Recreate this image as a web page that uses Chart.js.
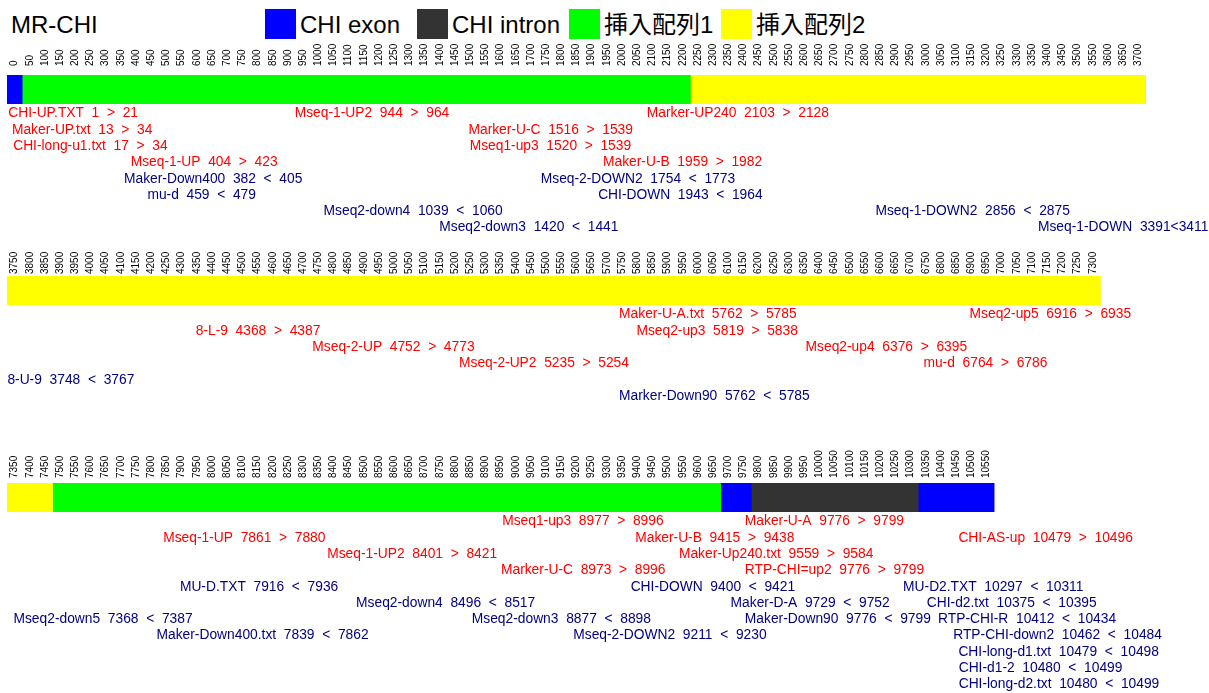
<!DOCTYPE html>
<html><head><meta charset="utf-8">
<script src="https://cdn.jsdelivr.net/npm/chart.js@4.4.1/dist/chart.umd.min.js"></script>
<style>
body{margin:0;background:#fff;width:1209px;height:693px;overflow:hidden;position:relative;font-family:"Liberation Sans",Arial,"Noto Sans CJK JP",sans-serif;}
#title{position:absolute;left:11px;top:11px;font-size:24px;line-height:27px;color:#000;white-space:nowrap;}
.lg{position:absolute;top:9px;height:31px;}
.lg .box{position:absolute;left:0;top:0;width:31px;height:30px;}
.lg .txt{position:absolute;left:35px;top:2px;font-size:24px;line-height:27px;white-space:nowrap;color:#000;}
canvas{position:absolute;left:0;}
</style></head>
<body>
<div id="title">MR-CHI</div>
<div id="legend"></div>
<canvas id="row0" width="1209" height="200" style="top:40px"></canvas>
<canvas id="row1" width="1209" height="200" style="top:240px"></canvas>
<canvas id="row2" width="1209" height="253" style="top:440px"></canvas>
<script>
// ---------- DATA ----------
const rowStarts = [0, 3750, 7350];
const rowEnds   = [3750, 7350, 10600];
const rowSpan   = 3750;      // units shown per row (same scale on every row)
const tickStep  = 50;

const segTypes = ['exon', 'insert1', 'insert2', 'insert1', 'exon', 'intron', 'exon'];
const segFrom  = [0,      50,        2250,      7500,      9700,   9800,     10350];
const segTo    = [50,     2250,      7500,      9700,      9800,   10350,    10600];

const legendKeys   = ['exon', 'intron', 'insert1', 'insert2'];
const legendLabels = ['CHI exon', 'CHI intron', '挿入配列1', '挿入配列2'];

const annNames = [
  'CHI-UP.TXT','Maker-UP.txt','CHI-long-u1.txt','Mseq-1-UP','Mseq-1-UP2','Marker-U-C','Mseq1-up3','Maker-U-B','Marker-UP240',
  'Maker-Down400','mu-d','Mseq2-down4','Mseq2-down3','Mseq-2-DOWN2','CHI-DOWN','Mseq-1-DOWN2','Mseq-1-DOWN',
  'Maker-U-A.txt','Mseq2-up5','8-L-9','Mseq2-up3','Mseq-2-UP','Mseq2-up4','Mseq-2-UP2','mu-d','8-U-9','Marker-Down90',
  'Mseq1-up3','Maker-U-A','Mseq-1-UP','Maker-U-B','CHI-AS-up','Mseq-1-UP2','Maker-Up240.txt','Marker-U-C','RTP-CHI=up2',
  'MU-D.TXT','CHI-DOWN','MU-D2.TXT','Mseq2-down4','Maker-D-A','CHI-d2.txt','Mseq2-down5','Mseq2-down3','Maker-Down90','RTP-CHI-R',
  'Maker-Down400.txt','Mseq-2-DOWN2','RTP-CHI-down2','CHI-long-d1.txt','CHI-d1-2','CHI-long-d2.txt'
];
const annFrom = [
  1,13,17,404,944,1516,1520,1959,2103,
  382,459,1039,1420,1754,1943,2856,3391,
  5762,6916,4368,5819,4752,6376,5235,6764,3748,5762,
  8977,9776,7861,9415,10479,8401,9559,8973,9776,
  7916,9400,10297,8496,9729,10375,7368,8877,9776,10412,
  7839,9211,10462,10479,10480,10480
];
const annTo = [
  21,34,34,423,964,1539,1539,1982,2128,
  405,479,1060,1441,1773,1964,2875,3411,
  5785,6935,4387,5838,4773,6395,5254,6786,3767,5785,
  8996,9799,7880,9438,10496,8421,9584,8996,9799,
  7936,9421,10311,8517,9752,10395,7387,8898,9799,10434,
  7862,9230,10484,10498,10499,10499
];
const annStrand = [
  '>','>','>','>','>','>','>','>','>',
  '<','<','<','<','<','<','<','<',
  '>','>','>','>','>','>','>','>','<','<',
  '>','>','>','>','>','>','>','>','>',
  '<','<','<','<','<','<','<','<','<','<',
  '<','<','<','<','<','<'
];
const annLane = [
  0,1,2,3,0,1,2,3,0,
  4,5,6,7,4,5,6,7,
  0,0,1,1,2,2,3,3,4,5,
  0,0,1,1,1,2,2,3,3,
  4,4,4,5,5,5,6,6,6,6,
  7,7,7,8,9,10
];
const annTight = [16]; // label written without spaces

// ---------- STYLE / LAYOUT ----------
const COLORS = {exon:'#0000ff', intron:'#333333', insert1:'#00ff00', insert2:'#ffff00'};
const STRAND_COLORS = {'>':'#ff0000', '<':'#000080'};
const ROW_LAYOUT = [
  {padTop:35, padBottom:136, tickBottom:26},
  {padTop:36, padBottom:135, tickBottom:34},
  {padTop:43, padBottom:181, tickBottom:38}
];
const PAD_LEFT = 7, PAD_RIGHT = 63;
const LANE_FIRST = 13.3, LANE_STEP = 16.3;

// legend
const lg = document.getElementById('legend');
legendKeys.forEach((k, i) => {
  const d = document.createElement('div');
  d.className = 'lg';
  d.style.left = (265 + 152 * i) + 'px';
  d.innerHTML = '<div class="box" style="background:' + COLORS[k] + '"></div><div class="txt"></div>';
  d.querySelector('.txt').textContent = legendLabels[i];
  lg.appendChild(d);
});

const cellTicks = {
  id: 'cellTicks',
  afterDraw(chart, args, opts) {
    const xs = chart.scales.x, ctx = chart.ctx;
    ctx.save();
    ctx.font = '10px "Liberation Sans", Arial, sans-serif';
    ctx.fillStyle = '#000';
    ctx.textAlign = 'left';
    ctx.textBaseline = 'middle';
    xs.ticks.forEach(t => {
      if (t.value >= opts.end) return;
      const x = xs.getPixelForValue(t.value + tickStep / 2);
      ctx.save();
      ctx.translate(x, opts.tickBottom);
      ctx.rotate(-Math.PI / 2);
      ctx.fillText(String(t.value), 0, 0);
      ctx.restore();
    });
    ctx.restore();
  }
};

const annotations = {
  id: 'annotations',
  afterDraw(chart, args, opts) {
    const xs = chart.scales.x, ctx = chart.ctx, area = chart.chartArea;
    ctx.save();
    ctx.font = '13.8px "Liberation Sans", Arial, sans-serif';
    ctx.textAlign = 'left';
    ctx.textBaseline = 'alphabetic';
    opts.items.forEach(i => {
      const tight = annTight.includes(i);
      const txt = annNames[i] + '  ' + annFrom[i] + (tight ? annStrand[i] : '  ' + annStrand[i] + '  ') + annTo[i];
      ctx.fillStyle = STRAND_COLORS[annStrand[i]];
      const x = xs.getPixelForValue(annFrom[i]) + 1;
      const y = area.bottom + LANE_FIRST + annLane[i] * LANE_STEP;
      ctx.fillText(txt, x, y);
    });
    ctx.restore();
  }
};

rowStarts.forEach((rs, r) => {
  const re = rowEnds[r];
  const datasets = [];
  segFrom.forEach((f, s) => {
    const a = Math.max(f, rs), b = Math.min(segTo[s], re);
    if (b <= a) return;
    datasets.push({
      label: segTypes[s],
      data: [[a, b]],
      backgroundColor: COLORS[segTypes[s]],
      borderWidth: 0,
      grouped: false,
      barPercentage: 1,
      categoryPercentage: 1
    });
  });
  const items = [];
  annTo.forEach((t, i) => { if (t > rs && t <= re) items.push(i); });
  const L = ROW_LAYOUT[r];
  new Chart(document.getElementById('row' + r), {
    type: 'bar',
    data: {labels: ['seq'], datasets},
    options: {
      indexAxis: 'y',
      responsive: false,
      animation: false,
      events: [],
      layout: {padding: {left: PAD_LEFT, right: PAD_RIGHT, top: L.padTop, bottom: L.padBottom}},
      scales: {
        x: {type: 'linear', min: rs, max: rs + rowSpan, display: false,
            ticks: {stepSize: tickStep, autoSkip: false, maxRotation: 0, minRotation: 0}},
        y: {display: false}
      },
      plugins: {
        legend: {display: false},
        tooltip: {enabled: false},
        cellTicks: {end: re, tickBottom: L.tickBottom},
        annotations: {items}
      }
    },
    plugins: [cellTicks, annotations]
  });
});
</script>
</body></html>
